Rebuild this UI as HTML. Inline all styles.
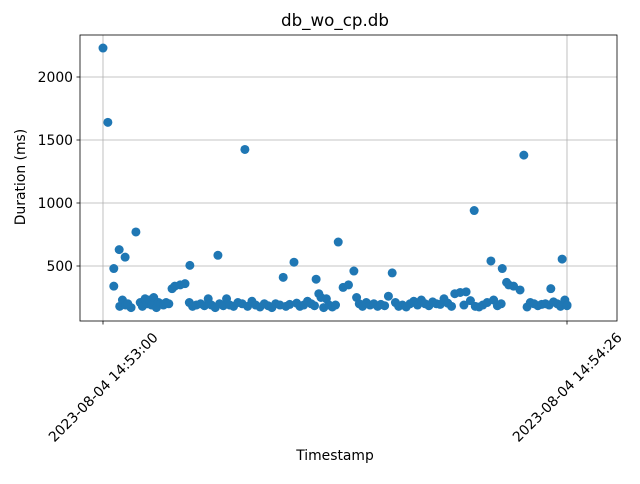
<!DOCTYPE html>
<html><head><meta charset="utf-8"><style>
body{margin:0;background:#fff;font-family:"DejaVu Sans","Liberation Sans",sans-serif}
svg text{font-family:"DejaVu Sans","Liberation Sans",sans-serif;fill:#000}
</style></head><body>
<svg id="c" width="640" height="480"></svg>
<script>
const secs=[0,0.9,2.0,2.0,3.0,4.1,6.1,16.1,21.3,26.3,33.4,35.4,39.5,43.6,46.5,53.6,68.8,71.9,74.0,78.0,85.1,83.0,12.8,13.3,14.3,15.2,44.5,45.5,65.2,66.2,67.3,74.8,75.2,76.1,77.3,
3.1,3.6,4.2,4.6,5.2,6.9,7.3,7.8,8.2,8.6,9.0,9.4,9.9,10.3,10.7,11.2,11.7,12.2,16.0,16.6,17.3,18.1,18.8,19.5,20.1,20.8,21.6,22.3,22.9,23.5,24.2,25.0,25.8,26.8,27.6,28.3,29.1,29.9,30.6,31.3,32.0,32.8,33.9,34.6,35.9,36.5,37.2,37.9,38.6,39.2,40.0,40.4,40.9,41.4,41.9,42.5,43.1,47.0,47.5,48.1,48.8,49.5,50.2,50.9,51.5,52.2,52.9,54.2,54.8,55.5,56.2,56.9,57.6,58.3,59.0,59.7,60.4,61.1,61.8,62.5,63.2,63.9,64.6,66.9,68.1,69.0,69.7,70.4,71.2,72.4,73.1,73.8,78.6,79.2,79.9,80.6,81.3,82.0,82.7,83.5,84.2,84.8,85.6,86.0,86.0];
const durs=[2230,1640,480,340,630,570,770,505,585,1425,410,530,395,690,460,445,940,540,480,1380,555,320,320,340,350,360,330,350,280,290,295,370,350,340,310,
180,230,190,200,170,210,180,240,200,230,190,250,170,210,200,190,210,200,210,180,190,200,185,240,190,170,200,185,240,190,180,210,200,180,220,190,175,200,185,170,200,190,180,195,205,180,190,220,200,185,280,250,170,240,190,175,190,250,200,180,210,190,200,180,195,185,260,210,180,190,175,200,220,190,230,200,185,215,200,195,240,205,180,190,225,180,175,190,210,230,185,200,175,210,200,185,195,200,190,215,200,180,230,190,185,195,210];
const s=document.getElementById('c');const NS='http://www.w3.org/2000/svg';
const L=80,R=617,T=35,B=321;
const X=v=>103+v*(464/86), Y=v=>329-v*0.126;
function el(t,a,p){const e=document.createElementNS(NS,t);for(const k in a)e.setAttribute(k,a[k]);(p||s).appendChild(e);return e;}
[500,1000,1500,2000].forEach(v=>{const g=el('line',{x1:L,x2:R,y1:Y(v),y2:Y(v),stroke:'#b0b0b0','stroke-width':0.8});

});
[0,86].forEach(v=>{const g=el('line',{x1:X(v),x2:X(v),y1:T,y2:B,stroke:'#b0b0b0','stroke-width':0.8});

});
secs.forEach((t,i)=>{const c=el('circle',{cx:X(t),cy:Y(durs[i]),r:4.5,fill:'#1f77b4'});

});
const f=el('rect',{x:L,y:T,width:R-L,height:B-T,fill:'none',stroke:'#000','stroke-width':0.8});


[500,1000,1500,2000].forEach(v=>{el('line',{x1:L-3.5,x2:L,y1:Y(v),y2:Y(v),stroke:'#000','stroke-width':0.8});
const t=el('text',{x:L-7,y:Y(v)+5,'text-anchor':'end','font-size':13.9});t.textContent=v;

});
const xl=['2023-08-04 14:53:00','2023-08-04 14:54:26'];
[0,86].forEach((v,i)=>{el('line',{x1:X(v),x2:X(v),y1:B,y2:B+3.5,stroke:'#000','stroke-width':0.8});
const cx=X(v), cy=387;
const t=el('text',{x:cx,y:cy+5,'text-anchor':'middle','font-size':13.9,transform:`rotate(-45 ${cx} ${cy})`});t.textContent=xl[i];

});
</script>
<div style="position:absolute;left:0;top:0;width:640px;height:480px;pointer-events:none">
<div style="position:absolute;left:235px;width:200px;top:10px;text-align:center;font-size:16.7px">db_wo_cp.db</div>
<div style="position:absolute;left:235px;width:200px;top:448px;text-align:center;font-size:13.9px">Timestamp</div>
<div style="position:absolute;left:-29px;top:169px;width:100px;text-align:center;font-size:13.9px;transform:rotate(-90deg)">Duration (ms)</div>
</div>
</body></html>
